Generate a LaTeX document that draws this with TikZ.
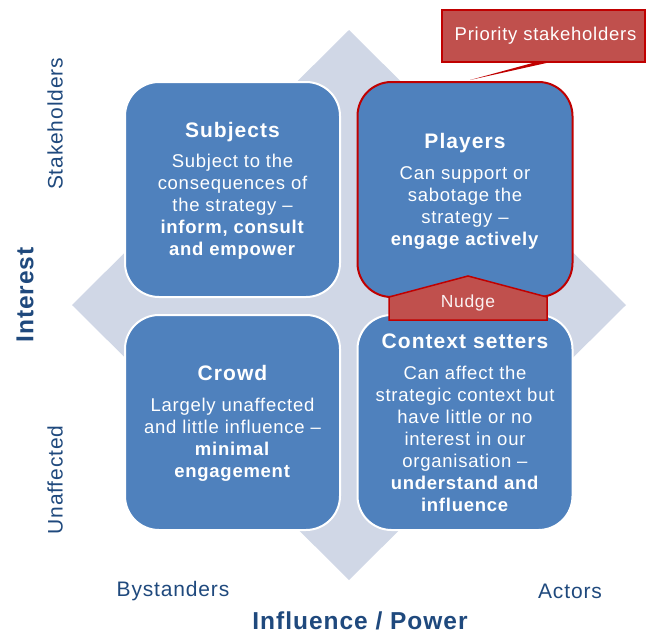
\documentclass[tikz,border=0pt]{standalone}
\usepackage{fontspec}
\setmainfont{Liberation Sans}
\usetikzlibrary{calc}
\definecolor{boxblue}{HTML}{4F81BD}
\definecolor{diam}{HTML}{D0D7E6}
\definecolor{navy}{HTML}{1F497D}
\definecolor{redfill}{HTML}{C0504D}
\definecolor{redline}{HTML}{C00000}
\newfontfamily\bodyfont[LetterSpace=4]{Liberation Sans}
\newfontfamily\titlefont[LetterSpace=5]{Liberation Sans}
\begin{document}
\begin{tikzpicture}[x=1pt,y=-1pt,
  quad/.style={rectangle, rounded corners=34pt, fill=boxblue, draw=white, line width=2pt,
    minimum width=215pt, minimum height=215pt, inner sep=0pt},
  qtitle/.style={text=white, font=\titlefont\fontsize{21}{24}\selectfont\bfseries, anchor=base, inner sep=0pt},
  qbody/.style={text=white, font=\bodyfont\fontsize{18.5}{22}\selectfont, align=center, anchor=north, inner sep=0pt},
  axis/.style={text=navy, font=\bodyfont\fontsize{21}{24}\selectfont, inner sep=0pt},
  axisbold/.style={text=navy, font=\bodyfont\fontsize{24.5}{28}\selectfont\bfseries, inner sep=0pt},
  redbox/.style={fill=redfill, draw=redline, line width=1.5pt}
]
\useasboundingbox (0,0) rectangle (648,635);
% diamond background
\fill[diam] (349,30) -- (626,305) -- (349,580) -- (72,305) -- cycle;

% quadrants
\node[quad] (subj) at (232.5,189.5) {};
\node[quad] (crowd) at (232.5,422.5) {};
\node[quad] (ctx) at (465,422.5) {};
\node[quad, draw=redline] (play) at (465,189.5) {};

% nudge
\draw[redbox] (389,320) -- (389,297) -- (468,276) -- (547,297) -- (547,320) -- cycle;
\node[text=white!92!redfill, font=\bodyfont\fontsize{17.5}{20}\selectfont, inner sep=0pt] (nudge) at (468,303) {Nudge};

% texts
\node[qtitle] (subjt) at (232.5,137) {Subjects};
\node[qbody] (subjb) at (232.5,154) {Subject to the\\consequences of\\the strategy –\\\textbf{inform, consult}\\\textbf{and empower}};
\node[qtitle] (playt) at (465,148) {Players};
\node[qbody] (playb) at (465,166) {Can support or\\sabotage the\\strategy –\\\textbf{engage actively}};
\node[qtitle] (crowdt) at (232.5,380) {Crowd};
\node[qbody] (crowdb) at (232.5,398) {Largely unaffected\\and little influence –\\\textbf{minimal}\\\textbf{engagement}};
\node[qtitle] (ctxt) at (465,348) {Context setters};
\node[qbody] (ctxb) at (465,366) {Can affect the\\strategic context but\\have little or no\\interest in our\\organisation –\\\textbf{understand and}\\\textbf{influence}};

% priority callout
\node[redbox, minimum width=203pt, minimum height=52pt, inner sep=0pt, text=white,
  font=\bodyfont\fontsize{18.5}{20}\selectfont] (prio) at (543.5,36) {\hspace*{4pt}Priority stakeholders};
\fill[redline] ($(prio.south)+(-10,0)$) -- ($(prio.south)+(4,0)$) -- ($(play.north)+(5,-1)$) -- cycle;

% axes
\node[axis, rotate=90] (stake) at (55,124) {Stakeholders};
\node[axis, rotate=90] (unaff) at (55,480) {Unaffected};
\node[axisbold, rotate=90] (inter) at (25,295) {Interest};
\node[axis] (bystand) at (173,591) {Bystanders};
\node[axis] (actors) at (570,591) {Actors};
\node[axisbold] (infl) at (360,621) {Influence / Power};
\end{tikzpicture}
\end{document}
